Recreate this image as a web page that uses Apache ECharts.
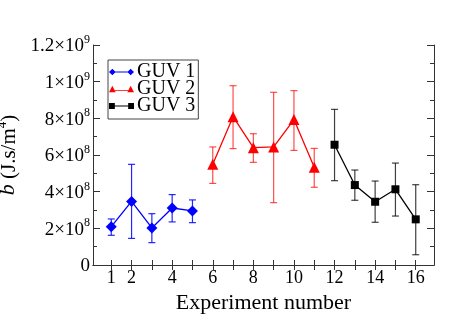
<!DOCTYPE html>
<html><head><meta charset="utf-8">
<script src="https://cdn.jsdelivr.net/npm/echarts@6/dist/echarts.min.js"></script>
<style>html,body{margin:0;padding:0;background:#fff}#c{width:457px;height:315px}</style>
</head><body><div id="c"></div>
<script>
const guv1X = [1, 2, 3, 4, 5];
const guv1Y = [2.09e8, 3.47e8, 2.02e8, 3.11e8, 2.95e8];
const guv1Lo = [1.62e8, 1.45e8, 1.22e8, 2.35e8, 2.31e8];
const guv1Hi = [2.51e8, 5.49e8, 2.80e8, 3.84e8, 3.55e8];

const guv2X = [6, 7, 8, 9, 10, 11];
const guv2Y = [5.49e8, 8.09e8, 6.40e8, 6.44e8, 7.93e8, 5.33e8];
const guv2Lo = [4.45e8, 6.35e8, 5.60e8, 3.40e8, 6.25e8, 4.24e8];
const guv2Hi = [6.44e8, 9.78e8, 7.16e8, 9.42e8, 9.51e8, 6.36e8];

const guv3X = [12, 13, 14, 15, 16];
const guv3Y = [6.56e8, 4.36e8, 3.45e8, 4.13e8, 2.49e8];
const guv3Lo = [4.60e8, 3.53e8, 2.33e8, 2.67e8, 0.56e8];
const guv3Hi = [8.49e8, 5.18e8, 4.58e8, 5.56e8, 4.38e8];

const seriesNames = ['GUV 1', 'GUV 2', 'GUV 3'];
const xTickValues = [1,2,3,4,5,6,7,8,9,10,11,12,13,14,15,16];
const xTickLabels = [1,2,4,6,8,10,12,14,16];

const FONT = '"Liberation Serif", "DejaVu Serif", serif';

function yFmt(v) {
  if (v === 0) return '{n|0}';
  const e = Math.floor(Math.log10(v) + 1e-9);
  const m = +(v / Math.pow(10, e)).toFixed(2);
  return '{n|' + m + '×10}{s|' + e + '}';
}

function zip(xs, ys) { return xs.map((x, i) => [x, ys[i]]); }
function zip3(xs, lo, hi) { return xs.map((x, i) => [x, lo[i], hi[i]]); }

function errRender(color) {
  return function (params, api) {
    const x = api.value(0), lo = api.value(1), hi = api.value(2);
    const a = api.coord([x, lo]), b = api.coord([x, hi]);
    const w = 3.5;
    const st = { stroke: color, lineWidth: 1.2 };
    return {
      type: 'group',
      children: [
        { type: 'line', shape: { x1: a[0], y1: a[1], x2: b[0], y2: b[1] }, style: st },
        { type: 'line', shape: { x1: a[0] - w, y1: a[1], x2: a[0] + w, y2: a[1] }, style: st },
        { type: 'line', shape: { x1: b[0] - w, y1: b[1], x2: b[0] + w, y2: b[1] }, style: st }
      ]
    };
  };
}

// legend icons: marker - line - marker
const iconDiamond = 'path://M0,5L4,1L8,5L4,9Z M7,4.5L23,4.5L23,5.5L7,5.5Z M22,5L26,1L30,5L26,9Z';
const iconTriangle = 'path://M0,9L4,1L8,9Z M7,6.5L23,6.5L23,7.5L7,7.5Z M22,9L26,1L30,9Z';
const iconSquare = 'path://M0,2L7,2L7,9L0,9Z M7,5L23,5L23,6L7,6Z M23,2L30,2L30,9L23,9Z';

const axisLine = { show: true, lineStyle: { color: '#333', width: 1 } };
const rich = {
  n: { fontFamily: FONT, fontSize: 19, color: '#000', lineHeight: 22, verticalAlign: 'bottom' },
  s: { fontFamily: FONT, fontSize: 12, color: '#000', lineHeight: 12, verticalAlign: 'top' }
};

const chart = echarts.init(document.getElementById('c'), null, { renderer: 'canvas' });
chart.setOption({
  animation: false,
  backgroundColor: '#fff',
  grid: { left: 93, right: 23, top: 45, bottom: 50, containLabel: false, outerBoundsMode: 'none' },
  legend: {
    orient: 'vertical', left: 108, top: 60,
    data: [
      { name: seriesNames[0], icon: iconDiamond },
      { name: seriesNames[1], icon: iconTriangle },
      { name: seriesNames[2], icon: iconSquare }
    ],
    borderColor: '#444', borderWidth: 1, padding: [2, 3, 3, 1],
    itemGap: -3, itemWidth: 25, itemHeight: 8,
    textStyle: { fontFamily: FONT, fontSize: 20, color: '#000', lineHeight: 14, padding: [0, 0, 0, -2] }
  },
  xAxis: [{
    type: 'value', min: 0.1, max: 16.9, position: 'bottom',
    name: 'Experiment number', nameLocation: 'middle', nameGap: 27,
    nameTextStyle: { fontFamily: FONT, fontSize: 22, color: '#000' },
    axisLine: axisLine, splitLine: { show: false },
    axisTick: { show: true, inside: true, length: 5, customValues: xTickValues, lineStyle: { color: '#333' } },
    axisLabel: { show: true, customValues: xTickLabels, fontFamily: FONT, fontSize: 18, color: '#000', margin: 4 }
  }, {
    type: 'value', min: 0.1, max: 16.9, position: 'top',
    axisLine: axisLine, splitLine: { show: false },
    axisTick: { show: true, inside: true, length: 5, customValues: xTickValues, lineStyle: { color: '#333' } },
    axisLabel: { show: false }
  }],
  yAxis: [{
    type: 'value', min: 0, max: 1.2e9, interval: 2e8, position: 'left',
    name: '{i|b}{n| (J.s/m}{s|4}{n|)}', nameLocation: 'middle', nameGap: 69, nameRotate: 90,
    nameTextStyle: {
      fontFamily: FONT, fontSize: 21, color: '#000',
      rich: {
        i: { fontFamily: FONT, fontSize: 22, fontStyle: 'italic', color: '#000', lineHeight: 24, verticalAlign: 'bottom' },
        n: { fontFamily: FONT, fontSize: 21, color: '#000', lineHeight: 24, verticalAlign: 'bottom' },
        s: { fontFamily: FONT, fontSize: 13, color: '#000', lineHeight: 13, verticalAlign: 'top' }
      }
    },
    axisLine: axisLine, splitLine: { show: false },
    axisTick: { show: true, inside: true, length: 7, lineStyle: { color: '#333' } },
    minorTick: { show: true, splitNumber: 2, length: 4, lineStyle: { color: '#333' } },
    axisLabel: { formatter: yFmt, rich: rich, margin: 3 }
  }, {
    type: 'value', min: 0, max: 1.2e9, interval: 2e8, position: 'right',
    axisLine: axisLine, splitLine: { show: false },
    axisTick: { show: true, inside: true, length: 7, lineStyle: { color: '#333' } },
    minorTick: { show: true, splitNumber: 2, length: 4, lineStyle: { color: '#333' } },
    axisLabel: { show: false }
  }],
  series: [
    { type: 'custom', name: 'err1', renderItem: errRender('rgba(0,0,255,0.85)'), data: zip3(guv1X, guv1Lo, guv1Hi), z: 1, silent: true },
    { type: 'custom', name: 'err2', renderItem: errRender('rgba(255,0,0,0.7)'), data: zip3(guv2X, guv2Lo, guv2Hi), z: 1, silent: true },
    { type: 'custom', name: 'err3', renderItem: errRender('rgba(0,0,0,0.75)'), data: zip3(guv3X, guv3Lo, guv3Hi), z: 1, silent: true },
    { type: 'line', name: seriesNames[0], data: zip(guv1X, guv1Y), color: '#0000ff', symbol: 'diamond', symbolSize: 11,
      lineStyle: { width: 1.3, color: '#0000ff' }, itemStyle: { color: '#0000ff' }, z: 3 },
    { type: 'line', name: seriesNames[1], data: zip(guv2X, guv2Y), color: '#ff0000', symbol: 'triangle', symbolSize: 11,
      lineStyle: { width: 1.3, color: '#ff0000' }, itemStyle: { color: '#ff0000' }, z: 3 },
    { type: 'line', name: seriesNames[2], data: zip(guv3X, guv3Y), color: '#000000', symbol: 'rect', symbolSize: 8,
      lineStyle: { width: 1.3, color: '#000' }, itemStyle: { color: '#000' }, z: 3 }
  ]
});
</script>
</body></html>
